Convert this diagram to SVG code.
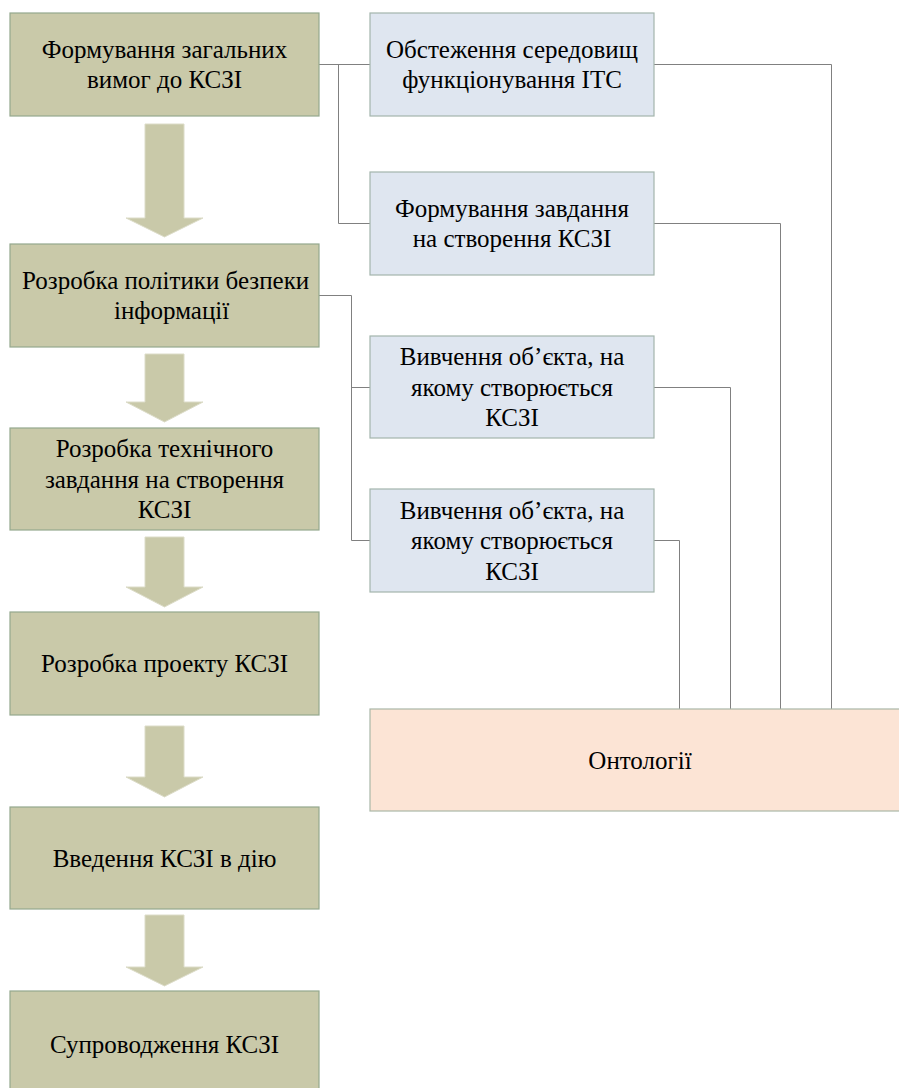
<svg xmlns="http://www.w3.org/2000/svg" width="899" height="1088" viewBox="0 0 899 1088">
<rect width="899" height="1088" fill="#fff"/>
<g id="connectors" fill="none" stroke="#808080" stroke-width="1">
<path d="M319,64.5 H370 M338.5,64.5 V223.5 H370"/>
<path d="M654,64.5 H831.5 V709"/>
<path d="M654,223.5 H780.5 V709"/>
<path d="M319,295.5 H351.5 V540.5 H370 M351.5,387.5 H370"/>
<path d="M654,387.5 H730.5 V709"/>
<path d="M654,540.5 H679.5 V709"/>
</g>
<g id="arrows" fill="#c9c9a9" stroke="#dcdcc8" stroke-width="1">
<polygon points="145,124 184,124 184,218 203,218 164.5,237 126,218 145,218"/>
<polygon points="145,354 184,354 184,402 203,402 164.5,422 126,402 145,402"/>
<polygon points="145,537 184,537 184,587 203,587 164.5,607 126,587 145,587"/>
<polygon points="145,726 184,726 184,777 203,777 164.5,797 126,777 145,777"/>
<polygon points="145,915 184,915 184,967 203,967 164.5,986 126,967 145,967"/>
</g>
<g id="step1"><rect x="10" y="13" width="309" height="103" fill="#c9c9a9" stroke="#94a88e" stroke-width="1.2"/>
<text x="164.5" y="57.5" font-family="Liberation Serif" font-size="25" text-anchor="middle">Формування загальних</text>
<text x="164.5" y="88" font-family="Liberation Serif" font-size="25" text-anchor="middle">вимог до КСЗІ</text></g>
<g id="step2"><rect x="10" y="244" width="309" height="103" fill="#c9c9a9" stroke="#94a88e" stroke-width="1.2"/>
<text x="22" y="288.5" font-family="Liberation Serif" font-size="25">Розробка політики безпеки</text>
<text x="114" y="319" font-family="Liberation Serif" font-size="25">інформації</text></g>
<g id="step3"><rect x="10" y="428" width="309" height="102" fill="#c9c9a9" stroke="#94a88e" stroke-width="1.2"/></g>
<text x="164.5" y="457" font-family="Liberation Serif" font-size="25" text-anchor="middle">Розробка технічного</text>
<text x="164.5" y="487.5" font-family="Liberation Serif" font-size="25" text-anchor="middle">завдання на створення</text>
<text x="164.5" y="518" font-family="Liberation Serif" font-size="25" text-anchor="middle">КСЗІ</text>
<g id="step4"><rect x="10" y="612" width="309" height="103" fill="#c9c9a9" stroke="#94a88e" stroke-width="1.2"/>
<text x="164.5" y="672" font-family="Times New Roman" font-size="25" text-anchor="middle">Розробка проекту КСЗІ</text></g>
<g id="step5"><rect x="10" y="807" width="309" height="102" fill="#c9c9a9" stroke="#94a88e" stroke-width="1.2"/>
<text x="164.5" y="866.5" font-family="serif" font-size="25" text-anchor="middle">Введення КСЗІ в дію</text></g>
<g id="step6"><rect x="10" y="991" width="309" height="103" fill="#c9c9a9" stroke="#94a88e" stroke-width="1.2"/>
<text x="164.5" y="1053" font-family="Tinos" font-size="25" text-anchor="middle">Супроводження КСЗІ</text></g>
<g id="subA"><rect x="370" y="13" width="284" height="103" fill="#dfe6f0" stroke="#a3b5ac" stroke-width="1.2"/>
<text x="512" y="57.5" font-family="Liberation Serif" font-size="25" text-anchor="middle">Обстеження середовищ</text>
<text x="512" y="88" font-family="Liberation Serif" font-size="25" text-anchor="middle">функціонування ІТС</text></g>
<g id="subB"><rect x="370" y="172" width="284" height="103" fill="#dfe6f0" stroke="#a3b5ac" stroke-width="1.2"/>
<text x="512" y="216.5" font-family="Liberation Serif" font-size="25" text-anchor="middle">Формування завдання</text>
<text x="512" y="247" font-family="Liberation Serif" font-size="25" text-anchor="middle">на створення КСЗІ</text></g>
<g id="subC"><rect x="370" y="336" width="284" height="102" fill="#dfe6f0" stroke="#a3b5ac" stroke-width="1.2"/>
<text x="512" y="365" font-family="Liberation Serif" font-size="25" text-anchor="middle">Вивчення об’єкта, на</text>
<text x="512" y="395.5" font-family="Liberation Serif" font-size="25" text-anchor="middle">якому створюється</text>
<text x="512" y="426" font-family="Liberation Serif" font-size="25" text-anchor="middle">КСЗІ</text></g>
<g id="subD"><rect x="370" y="489" width="284" height="103" fill="#dfe6f0" stroke="#a3b5ac" stroke-width="1.2"/>
<text x="512" y="518.5" font-family="Liberation Serif" font-size="25" text-anchor="middle">Вивчення об’єкта, на</text>
<text x="512" y="549" font-family="Liberation Serif" font-size="25" text-anchor="middle">якому створюється</text>
<text x="512" y="579.5" font-family="Liberation Serif" font-size="25" text-anchor="middle">КСЗІ</text></g>
<g id="ontology"><rect x="370" y="709" width="540" height="102" fill="#fce4d5" stroke="#aab7a7" stroke-width="1.2"/>
<text x="640" y="768.5" font-family="Liberation Serif" font-size="25" text-anchor="middle">Онтології</text></g>
</svg>
